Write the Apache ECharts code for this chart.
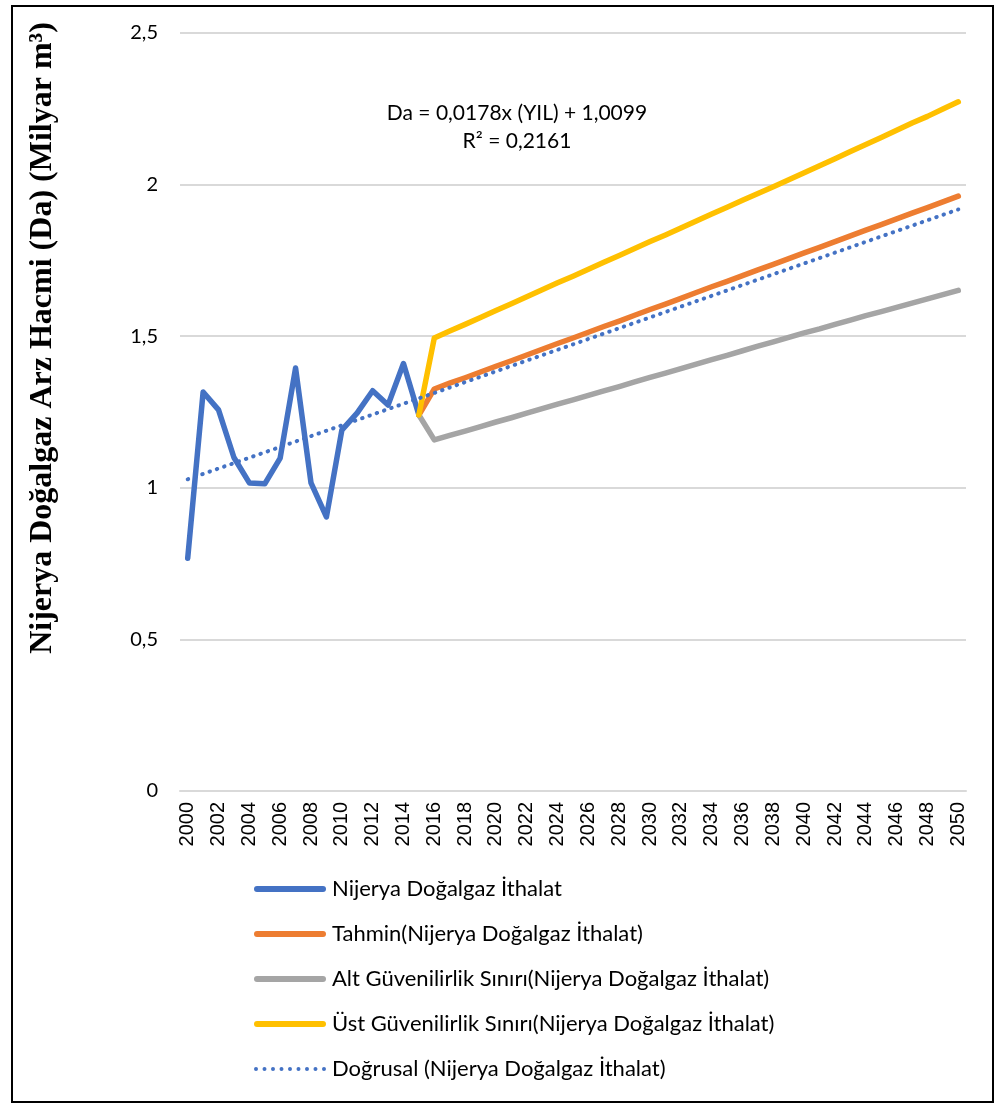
<!DOCTYPE html>
<html>
<head>
<meta charset="utf-8">
<script src="https://cdn.jsdelivr.net/npm/echarts@6/dist/echarts.min.js"></script>
<style>
  html, body { margin: 0; padding: 0; background: #fff; }
  #frame { position: absolute; left: 11px; top: 5px; width: 979px; height: 1094px; border: 2px solid #000; }
  #main { position: absolute; left: 0; top: 0; width: 994px; height: 1109px; }
</style>
</head>
<body>
<div id="frame"></div>
<div id="main"></div>
<script>
var years = ['2000','2001','2002','2003','2004','2005','2006','2007','2008','2009',
    '2010','2011','2012','2013','2014','2015','2016','2017','2018','2019',
    '2020','2021','2022','2023','2024','2025','2026','2027','2028','2029',
    '2030','2031','2032','2033','2034','2035','2036','2037','2038','2039',
    '2040','2041','2042','2043','2044','2045','2046','2047','2048','2049','2050'];

// 2000 - 2015
var ithalat = [0.768, 1.316, 1.257, 1.100, 1.016, 1.013, 1.098, 1.395,
    1.016, 0.904, 1.190, 1.247, 1.320, 1.273, 1.410, 1.240];

// 2015 - 2050
var tahmin = [1.240, 1.326, 1.345, 1.363, 1.382, 1.401, 1.419, 1.438, 1.457,
    1.476, 1.494, 1.513, 1.532, 1.550, 1.569, 1.588, 1.606, 1.625, 1.644,
    1.663, 1.681, 1.700, 1.719, 1.737, 1.756, 1.775, 1.793, 1.812, 1.831,
    1.850, 1.868, 1.887, 1.906, 1.924, 1.943, 1.962];
var altSinir = [1.240, 1.158, 1.173, 1.187, 1.202, 1.217, 1.231, 1.246, 1.261,
    1.276, 1.290, 1.305, 1.320, 1.334, 1.349, 1.364, 1.378, 1.393, 1.408,
    1.423, 1.437, 1.452, 1.467, 1.481, 1.496, 1.511, 1.524, 1.539, 1.553,
    1.568, 1.581, 1.595, 1.609, 1.623, 1.637, 1.651];
var ustSinir = [1.240, 1.494, 1.517, 1.539, 1.562, 1.585, 1.607, 1.630, 1.653,
    1.676, 1.698, 1.721, 1.744, 1.766, 1.789, 1.812, 1.834, 1.857, 1.880,
    1.903, 1.925, 1.948, 1.971, 1.993, 2.016, 2.039, 2.062, 2.085, 2.109,
    2.132, 2.155, 2.179, 2.203, 2.225, 2.249, 2.273];

// trend line ends (2000, 2050)
var dogrusal = [1.028, 1.918];

var seriesNames = ['Nijerya Doğalgaz İthalat',
    'Tahmin(Nijerya Doğalgaz İthalat)',
    'Alt Güvenilirlik Sınırı(Nijerya Doğalgaz İthalat)',
    'Üst Güvenilirlik Sınırı(Nijerya Doğalgaz İthalat)',
    'Doğrusal (Nijerya Doğalgaz İthalat)'];
var colors = ['#4472C4', '#ED7D31', '#A5A5A5', '#FFC000', '#4472C4'];

// legend icons: thick rounded bar, and a row of dots for the trend line
var barIcon = 'path://M3,0H69A3,3 0 0 1 69,6H3A3,3 0 0 1 3,0Z';
var dotIcon = 'path://' + [0, 1, 2, 3, 4, 5, 6, 7, 8].map(function (i) {
    var x = i * 8.5;
    return 'M' + x + ',2A2,2 0 1 1 ' + (x + 4) + ',2A2,2 0 1 1 ' + x + ',2Z';
}).join('') + 'M0,-1H0.01M72,5H72.01';

function pad(arr, start) {
    var out = [];
    for (var i = 0; i < years.length; i++) {
        var k = i - start;
        out.push(k >= 0 && k < arr.length ? arr[k] : null);
    }
    return out;
}
function ends(pair) {
    var out = pad([], 0);
    out[0] = pair[0];
    out[years.length - 1] = pair[1];
    return out;
}

var myChart = echarts.init(document.getElementById('main'));

function lineSeries(idx, data, dotted) {
    return {
        name: seriesNames[idx],
        type: 'line',
        data: data,
        symbol: 'none',
        connectNulls: !!dotted,
        z: dotted ? 6 : 2 + idx,
        lineStyle: dotted
            ? {color: colors[idx], width: 4, type: [0.5, 7.2], cap: 'round'}
            : {color: colors[idx], width: 5.5, cap: 'round', join: 'round'},
        itemStyle: {color: colors[idx]}
    };
}

var option = {
    animation: false,
    grid: {left: 180, right: 28, top: 33, bottom: 318},
    legend: {
        orient: 'vertical',
        left: 249,
        top: 873,
        itemWidth: 72,
        itemHeight: 6,
        itemGap: 23,
        textStyle: {fontFamily: 'Lato', fontSize: 22, color: '#000', padding: [0, 0, 0, 1]},
        data: seriesNames.map(function (n, i) {
            return {name: n, icon: i === 4 ? dotIcon : barIcon};
        })
    },
    xAxis: {
        type: 'category',
        data: years,
        boundaryGap: true,
        axisLine: {lineStyle: {color: '#D9D9D9', width: 2}},
        axisTick: {show: false},
        axisLabel: {
            interval: 1,
            rotate: 90,
            margin: 11,
            fontFamily: 'Liberation Sans',
            fontSize: 20,
            color: '#000'
        }
    },
    yAxis: {
        type: 'value',
        min: 0,
        max: 2.5,
        interval: 0.5,
        axisLine: {show: false},
        axisTick: {show: false},
        splitLine: {lineStyle: {color: '#D9D9D9', width: 2}},
        axisLabel: {
            margin: 22,
            fontFamily: 'Lato',
            fontSize: 20,
            color: '#000',
            formatter: function (v) { return String(v).replace('.', ','); }
        }
    },
    graphic: [
        {
            type: 'text',
            x: 43,
            y: 338,
            rotation: Math.PI / 2,
            style: {
                text: 'Nijerya Doğalgaz Arz Hacmi (Da) (Milyar m³)',
                font: 'bold 32px "Liberation Serif"',
                fill: '#000',
                align: 'center',
                verticalAlign: 'middle'
            }
        },
        {
            type: 'text',
            x: 517,
            y: 113,
            style: {
                text: 'Da = 0,0178x (YIL) + 1,0099',
                font: '21px Lato',
                fill: '#000',
                align: 'center',
                verticalAlign: 'middle'
            }
        },
        {
            type: 'text',
            x: 517,
            y: 141,
            style: {
                text: 'R² = 0,2161',
                font: '21px Lato',
                fill: '#000',
                align: 'center',
                verticalAlign: 'middle'
            }
        }
    ],
    series: [
        lineSeries(0, pad(ithalat, 0)),
        lineSeries(1, pad(tahmin, 15)),
        lineSeries(2, pad(altSinir, 15)),
        lineSeries(3, pad(ustSinir, 15)),
        lineSeries(4, ends(dogrusal), true)
    ]
};
myChart.setOption(option, true);
</script>
</body>
</html>
